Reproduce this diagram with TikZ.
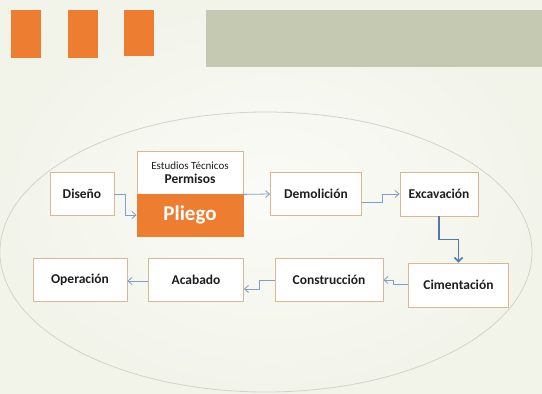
\documentclass[tikz,border=0pt]{standalone}
\usepackage{fontspec}
\setmainfont{Carlito}
\usetikzlibrary{arrows.meta,calc}
\definecolor{bgc}{HTML}{F2F4EA}
\definecolor{bgin}{HTML}{FBFBF7}
\definecolor{orng}{HTML}{ED7D31}
\definecolor{grayband}{HTML}{C6C9B2}
\definecolor{boxline}{HTML}{DDB58E}
\definecolor{conn}{HTML}{7E9FCB}
\definecolor{connd}{HTML}{4F77B3}
\definecolor{ellc}{HTML}{D2D4CA}
\definecolor{txt}{HTML}{1E1E1E}
\tikzset{
  stepbox/.style={draw=boxline, line width=0.8pt, fill=white, minimum height=43pt, inner sep=2pt,
    font=\bfseries\fontsize{13.5}{15}\selectfont, text=txt},
  connline/.style={draw=conn, line width=0.8pt, -{Straight Barb[length=4pt,width=7pt]}},
  connthick/.style={draw=connd, line width=1.6pt, -{Straight Barb[length=4pt,width=8pt]}},
}
\begin{document}
\begin{tikzpicture}[x=1pt,y=-1pt]
\useasboundingbox (0,0) rectangle (542,394);
\shade[inner color=bgin, outer color=bgc] (0,0) rectangle (542,394);
% header
\fill[orng] (11,10) rectangle (41,58);
\fill[orng] (68,10) rectangle (98,58);
\fill[orng] (124,10) rectangle (154,56);
\fill[grayband] (206,10) rectangle (542,67);
% ellipse
\draw[ellc, line width=0.8pt] (266,252) ellipse [x radius=266, y radius=140];
% nodes
\node[stepbox, minimum width=64pt] (dis) at (82,194) {Diseño};
\node[stepbox, minimum width=106pt, minimum height=43pt, align=center] (est) at (190,172.5)
  {{\mdseries\fontsize{11}{13}\selectfont Estudios Técnicos}\\[-1pt]Permisos};
\node[draw=orng, fill=orng, line width=0.8pt, minimum width=106pt, minimum height=42pt,
  text=white, font=\bfseries\fontsize{21}{24}\selectfont] (pli) at (190,215) {Pliego};
\node[stepbox, minimum width=91pt] (dem) at (316,194) {Demolición};
\node[stepbox, minimum width=78pt, minimum height=44pt] (exc) at (439,194) {Excavación};
\node[stepbox, minimum width=100pt, minimum height=44pt] (cim) at (458.5,285) {Cimentación};
\node[stepbox, minimum width=108pt] (con) at (329,280) {Construcción};
\node[stepbox, minimum width=95pt] (aca) at (196,280) {Acabado};
\node[stepbox, minimum width=94pt] (ope) at (80,280) {Operación};
% connectors
\draw[connline] (dis.east) -- ++(11,0) |- (pli.west);
\draw[connline] (est.south east) -- (dem.west);
\draw[connline] ([yshift=-8pt]dem.east) -- ++(20,0) |- (exc.west);
\draw[connthick] (exc.south) -- ++(0,23) -| (cim.north);
\draw[connline] ([yshift=1pt]cim.west) -- ++(-15,0) |- (con.east);
\draw[connline] (con.west) -- ++(-15,0) |- ([yshift=-9pt]aca.east);
\draw[connline] ([yshift=-1pt]aca.west) -- ([yshift=-1pt]ope.east);
\end{tikzpicture}
\end{document}
